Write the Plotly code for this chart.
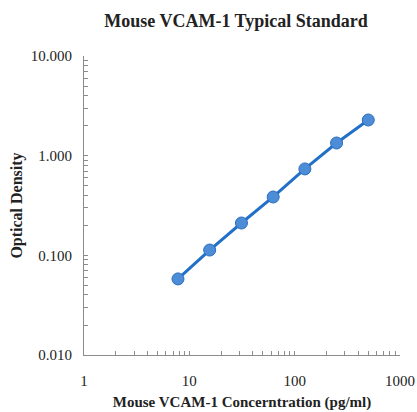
import plotly.graph_objects as go

conc = [7.8, 15.6, 31.25, 62.5, 125, 250, 500]
od = [0.058, 0.113, 0.211, 0.385, 0.736, 1.34, 2.28]

x_tick_vals = [1, 10, 100, 1000]
x_tick_text = ["1", "10", "100", "1000"]
y_tick_vals = [0.01, 0.1, 1, 10]
y_tick_text = ["0.010", "0.100", "1.000", "10.000"]

def minor_ticks(lo_exp, hi_exp):
    vals = []
    for e in range(lo_exp, hi_exp):
        for d in range(1, 10):
            vals.append(d * 10 ** e)
    vals.append(10 ** hi_exp)
    return vals

xv = minor_ticks(0, 3)
yv = minor_ticks(-2, 1)
xt = [x_tick_text[x_tick_vals.index(v)] if v in x_tick_vals else "" for v in xv]
yt = [y_tick_text[y_tick_vals.index(v)] if v in y_tick_vals else "" for v in yv]

font = "Liberation Serif, Times New Roman, serif"

fig = go.Figure()
fig.add_trace(go.Scatter(
    x=conc, y=od, mode="lines+markers",
    line=dict(color="#2370C8", width=3),
    marker=dict(size=12, color="#4D8CD6", line=dict(color="#2A6DBE", width=1)),
    showlegend=False,
))

axis_common = dict(
    type="log", showgrid=False, zeroline=False, showline=True, automargin=False,
    linecolor="#8C8C8C", linewidth=1, ticks="inside", ticklen=4,
    tickcolor="#8C8C8C", tickfont=dict(family=font, size=15, color="#222"),
)

fig.update_xaxes(**axis_common, range=[0, 3], tickvals=xv, ticktext=xt,
                 ticklabelstandoff=12,
                 title=dict(text="<b>Mouse VCAM-1 Concerntration (pg/ml)</b>",
                            font=dict(family=font, size=15, color="#222"), standoff=8))
fig.update_yaxes(**axis_common, range=[-2, 1], tickvals=yv, ticktext=yt,
                 ticklabelstandoff=8,
                 title=dict(text="<b>Optical Density</b>",
                            font=dict(family=font, size=16, color="#222"), standoff=4))

fig.update_layout(
    width=417, height=412,
    margin=dict(l=84, r=17, t=56, b=57, autoexpand=False),
    paper_bgcolor="white", plot_bgcolor="white",
    title=dict(text="<b>Mouse VCAM-1 Typical Standard</b>", x=0.566, xanchor="center",
               y=0.95, yanchor="middle",
               font=dict(family=font, size=18, color="#222")),
)

fig.write_html("out.html", config={"displayModeBar": False},
               post_script="document.body.style.margin='0';")
